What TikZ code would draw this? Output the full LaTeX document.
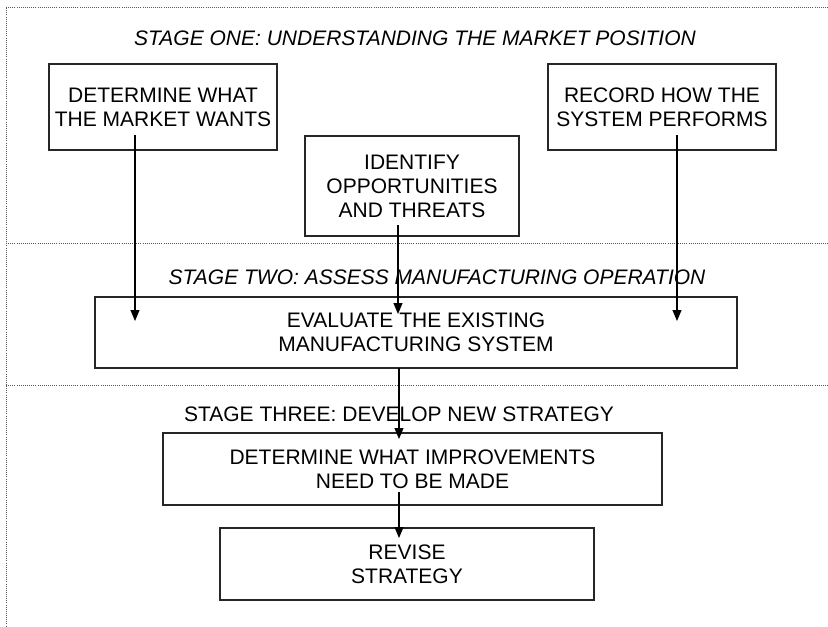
\documentclass[tikz,border=0pt]{standalone}
\usepackage{fontspec}
\setmainfont{Liberation Sans}
\usetikzlibrary{arrows.meta}
\begin{document}
\begin{tikzpicture}[x=1pt,y=-1pt,
  box/.style={draw=black!85,line width=1.2pt,inner sep=0pt,align=center,
    font=\fontsize{21}{24}\selectfont,text=black},
  stagetitle/.style={inner sep=0pt,font=\fontsize{21}{24}\selectfont,text=black},
  sep/.style={draw=black!65,line width=0.9pt,dash pattern=on 0.9pt off 1.2pt},
  conn/.style={draw=black,line width=1.1pt,-{Triangle[width=9pt,length=11pt]}}]
\useasboundingbox (0,0) rectangle (828,627);
% dotted frame and stage separators
\coordinate (fTL) at (6,7);
\coordinate (fTR) at (828,7);
\coordinate (fBL) at (6,627);
\coordinate (s1L) at (6,243);
\coordinate (s1R) at (828,243);
\coordinate (s2L) at (6,385);
\coordinate (s2R) at (828,385);
\draw[sep] (fTR) -- (fTL) -- (fBL);
\draw[sep] (s1L) -- (s1R);
\draw[sep] (s2L) -- (s2R);
% stage titles
\node[stagetitle,font=\fontsize{21}{24}\selectfont\itshape] (t1) at (415,38) {STAGE ONE: UNDERSTANDING THE MARKET POSITION};
\node[stagetitle,font=\fontsize{21}{24}\selectfont\itshape] (t2) at (437,277) {STAGE TWO: ASSESS MANUFACTURING OPERATION};
\node[stagetitle] (t3) at (399,414) {STAGE THREE: DEVELOP NEW STRATEGY};
% boxes
\node[box,minimum width=228pt,minimum height=86pt] (A) at (163,107) {DETERMINE WHAT\\THE MARKET WANTS};
\node[box,minimum width=228pt,minimum height=86pt] (C) at (662,107) {RECORD HOW THE\\SYSTEM PERFORMS};
\node[box,minimum width=214pt,minimum height=100pt] (B) at (412,186) {IDENTIFY\\OPPORTUNITIES\\AND THREATS};
\node[box,minimum width=642pt,minimum height=71pt] (E) at (416,332.5) {EVALUATE THE EXISTING\\MANUFACTURING SYSTEM};
\node[box,minimum width=499pt,minimum height=72pt] (F) at (412.5,469) {DETERMINE WHAT IMPROVEMENTS\\NEED TO BE MADE};
\node[box,minimum width=374pt,minimum height=72pt] (G) at (407,564) {REVISE\\STRATEGY};
% connector ends
\coordinate (a0) at (135,135);  \coordinate (a1) at (135,321);
\coordinate (b0) at (398,225);  \coordinate (b1) at (398,314);
\coordinate (c0) at (677,135);  \coordinate (c1) at (677,321);
\coordinate (e0) at (399,368);  \coordinate (e1) at (399,439);
\coordinate (f0) at (399,492);  \coordinate (f1) at (399,538);
\draw[conn] (a0) -- (a1);
\draw[conn] (b0) -- (b1);
\draw[conn] (c0) -- (c1);
\draw[conn] (e0) -- (e1);
\draw[conn] (f0) -- (f1);
\end{tikzpicture}
\end{document}
